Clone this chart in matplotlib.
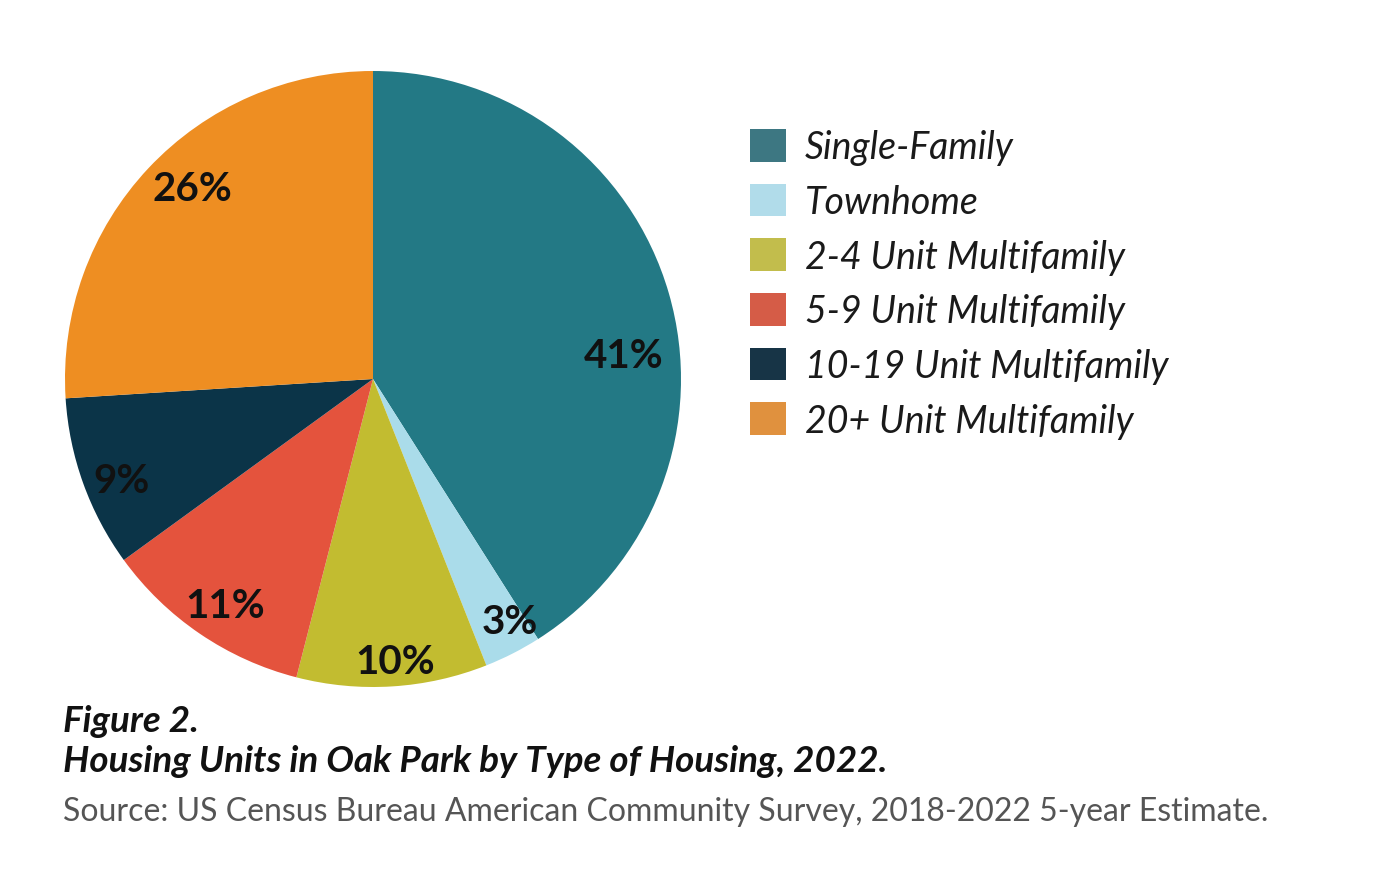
import matplotlib
matplotlib.use("Agg")
import matplotlib.pyplot as plt
from matplotlib.patches import Patch

# housing type shares, Oak Park 2022
categories = ["Single-Family", "Townhome", "2-4 Unit Multifamily",
              "5-9 Unit Multifamily", "10-19 Unit Multifamily", "20+ Unit Multifamily"]
shares = [41, 3, 10, 11, 9, 26]
pie_colors = ["#237985", "#aadcea", "#c2bc30", "#e4533d", "#0b3448", "#ee8e22"]
legend_colors = ["#3d7782", "#b1dcea", "#c2bd4c", "#d55c47", "#173446", "#e0913e"]
# label spots (fraction of radius), nudged by hand like the original
label_xy = [(0.815, 0.075), (0.445, -0.786), (0.071, -0.916),
            (-0.48, -0.737), (-0.815, -0.328), (-0.588, 0.617)]

W, H = 1396, 878
fig = plt.figure(figsize=(W / 100, H / 100), dpi=100)

cx, cy, R = 373, 380, 308
side = 2.08 * R
ax = fig.add_axes([(cx - side / 2) / W, (H - cy - side / 2) / H, side / W, side / H])
wedges, _ = ax.pie(shares, colors=pie_colors, startangle=90, counterclock=False,
                   radius=1.0, wedgeprops=dict(linewidth=0))
ax.set_xlim(-1.04, 1.04)
ax.set_ylim(-1.04, 1.04)
ax.set_aspect("equal")
ax.axis("off")

for v, (lx, ly) in zip(shares, label_xy):
    ax.text(lx, ly, f"{v}%", ha="center", va="center", fontsize=29,
            fontfamily="Lato", fontweight="bold", color="#111111")

handles = [Patch(facecolor=c, edgecolor="none") for c in legend_colors]
leg = fig.legend(handles, categories, loc="upper left",
                 bbox_to_anchor=(750 / W, 1 - 130 / H), frameon=False,
                 prop=dict(family="Lato", style="italic", size=27),
                 handlelength=0.97, handleheight=0.97, handletextpad=0.5,
                 labelspacing=0.49, borderpad=0, borderaxespad=0)
for t in leg.get_texts():
    t.set_color("#1a1a1a")

fig.text(63 / W, 1 - 732 / H, "Figure 2.", fontsize=26.5, fontweight="bold",
         style="italic", family="Lato", color="#111111", va="baseline")
fig.text(63 / W, 1 - 772 / H, "Housing Units in Oak Park by Type of Housing, 2022.",
         fontsize=26.5, fontweight="bold", style="italic", family="Lato",
         color="#111111", va="baseline")
fig.text(63 / W, 1 - 821 / H,
         "Source: US Census Bureau American Community Survey, 2018-2022 5-year Estimate.",
         fontsize=23, family="Lato", color="#555555", va="baseline")

fig.savefig("out.png", dpi=100, facecolor="white")
